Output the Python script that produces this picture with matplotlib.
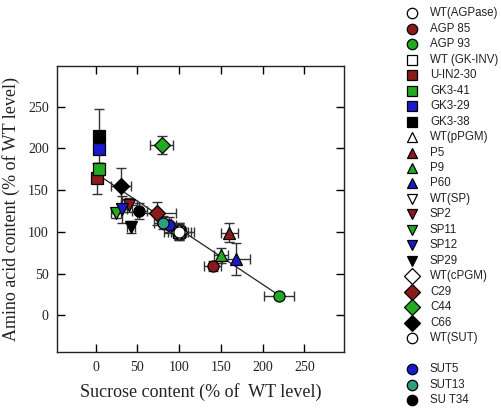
import matplotlib
matplotlib.use("Agg")
import matplotlib.pyplot as plt
from matplotlib.lines import Line2D

# one entry per line / genotype: label, marker, face colour
labels = ["WT(AGPase)", "AGP 85", "AGP 93", "WT (GK-INV)", "U-IN2-30", "GK3-41",
          "GK3-29", "GK3-38", "WT(pPGM)", "P5", "P9", "P60", "WT(SP)", "SP2",
          "SP11", "SP12", "SP29", "WT(cPGM)", "C29", "C44", "C66", "WT(SUT)",
          "SUT5", "SUT13", "SU T34"]
markers = ["o", "o", "o", "s", "s", "s", "s", "s", "^", "^", "^", "^", "v", "v",
           "v", "v", "v", "D", "D", "D", "D", "o", "o", "o", "o"]
colors = ["white", "#8b1a1a", "#22aa22", "white", "#8b1a1a", "#22aa22",
          "#1a1acc", "black", "white", "#8b1a1a", "#22aa22", "#1a1acc",
          "white", "#8b1a1a", "#22aa22", "#1a1acc", "black", "white",
          "#8b1a1a", "#22aa22", "black", "white", "#1a1acc", "#2e9e80", "black"]

# sucrose (% of WT) and amino acid (% of WT) with errors
sucrose = [100, 140, 220, 100, 1, 4, 4, 4, 100, 160, 150, 168, 100, 40,
           24, 32, 42, 100, 73, 79, 30, 100, 88, 80, 52]
sucrose_err = [8, 10, 18, 10, 3, 3, 3, 3, 6, 10, 8, 17, 8, 10,
               6, 5, 5, 14, 23, 14, 12, 18, 8, 10, 9]
amino = [100, 59, 23, 100, 164, 175, 199, 215, 100, 99, 72, 67, 100, 132,
         123, 127, 106, 100, 122, 204, 155, 100, 108, 111, 125]
amino_err = [6, 6, 4, 8, 19, 7, 6, 32, 6, 11, 9, 19, 10, 8,
             6, 16, 7, 10, 14, 11, 22, 9, 10, 8, 10]

# regression line
fit_x = [9, 220]
fit_intercept = 170
fit_slope = -0.665

ticks = [0, 50, 100, 150, 200, 250]

fig = plt.figure(figsize=(5.01, 4.12), dpi=100)
ax = fig.add_axes([0.1138, 0.1449, 0.6872 - 0.1138, 0.8405 - 0.1449])

fit_y = [fit_intercept + fit_slope * v for v in fit_x]
ax.plot(fit_x, fit_y, color="#222222", linewidth=0.9, zorder=1)

for i in range(len(labels)):
    ms = 8.5 if markers[i] == "D" else 8
    ax.errorbar(sucrose[i], amino[i], xerr=sucrose_err[i], yerr=amino_err[i],
                fmt="none", ecolor="#333333", elinewidth=1, capsize=3.5,
                capthick=1, zorder=2)
    ax.plot(sucrose[i], amino[i], marker=markers[i], markersize=ms,
            markerfacecolor=colors[i], markeredgecolor="black",
            markeredgewidth=0.9, linestyle="none", zorder=3)

ax.set_xlim(-46.5, 298)
ax.set_ylim(-44.4, 299)
ax.set_xticks(ticks)
ax.set_yticks(ticks)
ax.tick_params(direction="in", length=6, width=1, top=True, right=True,
               labeltop=False, labelright=False, pad=6)
for lab in ax.get_xticklabels() + ax.get_yticklabels():
    lab.set_fontfamily("Liberation Serif")
    lab.set_fontsize(10)
    lab.set_color("#222222")
for s in ax.spines.values():
    s.set_linewidth(1)
    s.set_color("#222222")

ax.set_xlabel("Sucrose content (% of  WT level)", fontfamily="Liberation Serif",
              fontsize=13, labelpad=7, color="#222222")
ax.set_ylabel("Amino acid content (% of WT level)", fontfamily="Liberation Serif",
              fontsize=13, labelpad=6, color="#222222")

# legend drawn as a column at the right, with a blank row before SUT5
leg = fig.add_axes([0, 0, 1, 1])
leg.set_xlim(0, 501)
leg.set_ylim(412, 0)
leg.axis("off")
row = 0
for i in range(len(labels)):
    if labels[i] == "SUT5":
        row += 1
    y = 13.3 + row * 15.47
    ms = 8 if markers[i] == "D" else 7.5
    leg.plot(411.7, y, marker=markers[i], markersize=ms,
             markerfacecolor=colors[i], markeredgecolor="black",
             markeredgewidth=0.9, linestyle="none")
    leg.text(430, y, labels[i], fontfamily="Liberation Sans", fontsize=8.3,
             va="center", ha="left", color="#222222")
    row += 1

fig.savefig("out.png", dpi=100)
